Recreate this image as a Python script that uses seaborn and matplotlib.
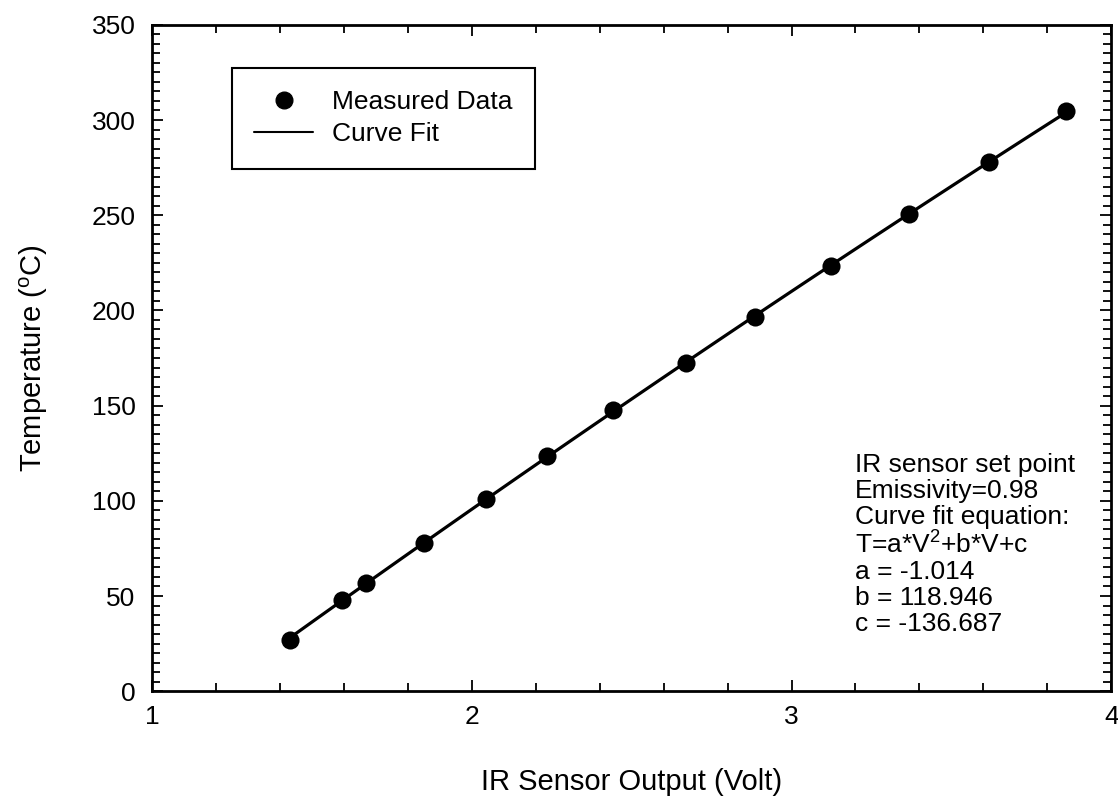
import numpy as np
import pandas as pd
import matplotlib
matplotlib.use("Agg")
import matplotlib.pyplot as plt
import seaborn as sns
from matplotlib.lines import Line2D
from matplotlib.ticker import MultipleLocator

voltage = [1.43, 1.595, 1.67, 1.852, 2.043, 2.236, 2.442, 2.67, 2.886, 3.124, 3.368, 3.618, 3.859]
temperature = [27, 48, 57, 78, 101, 123.5, 147.5, 172.5, 196.5, 223.5, 250.5, 278, 304.5]

x_ticks = [1, 2, 3, 4]
y_ticks = [0, 50, 100, 150, 200, 250, 300, 350]

note_lines = [
    "IR sensor set point",
    "Emissivity=0.98",
    "Curve fit equation:",
    "T=a*V$^2$+b*V+c",
    "a = -1.014",
    "b = 118.946",
    "c = -136.687",
]

df = pd.DataFrame({"voltage": voltage, "temperature": temperature})

sns.set_style("ticks")
plt.rcParams["font.family"] = ["Liberation Sans", "DejaVu Sans"]
plt.rcParams["mathtext.fontset"] = "custom"
plt.rcParams["mathtext.rm"] = "Liberation Sans"
plt.rcParams["mathtext.it"] = "Liberation Sans"
for key in ["text.color", "axes.labelcolor", "xtick.color", "ytick.color"]:
    plt.rcParams[key] = "black"

fig = plt.figure(figsize=(11.18, 8), dpi=100)
ax = fig.add_axes([0.136, 0.136, 0.858, 0.833])

# Curve fit (2nd order polynomial) and measured points
sns.regplot(data=df, x="voltage", y="temperature", order=2, ci=None,
            scatter=False, truncate=True, color="black",
            line_kws={"linewidth": 2.3}, ax=ax)
sns.scatterplot(data=df, x="voltage", y="temperature", color="black",
                s=170, edgecolor="black", linewidth=0, zorder=3, ax=ax)

ax.set_xlim(1, 4)
ax.set_ylim(0, 350)
ax.set_xticks(x_ticks)
ax.set_yticks(y_ticks)
ax.xaxis.set_minor_locator(MultipleLocator(0.2))
ax.yaxis.set_minor_locator(MultipleLocator(5))
ax.tick_params(which="both", direction="in", top=True, right=True,
               colors="black", width=1.3)
ax.tick_params(which="major", length=8, labelsize=19)
ax.tick_params(axis="x", which="major", pad=10)
ax.tick_params(axis="y", which="major", pad=12)
ax.tick_params(which="minor", length=6)
for sp in ax.spines.values():
    sp.set_linewidth(2)
    sp.set_color("black")

ax.set_xlabel("IR Sensor Output (Volt)", fontsize=21, labelpad=28)
ax.set_ylabel("Temperature ($^{\\rm o}$C)", fontsize=21, labelpad=30)

handles = [
    Line2D([], [], marker="o", color="black", linestyle="none", markersize=12),
    Line2D([], [], color="black", linewidth=1.5),
]
leg = ax.legend(handles, ["Measured Data", "Curve Fit"], loc="upper left",
                bbox_to_anchor=(0.0834, 0.9354), fontsize=19, frameon=True,
                fancybox=False, handlelength=2.2, handletextpad=0.75,
                borderpad=0.85, labelspacing=0.3, borderaxespad=0)
leg.get_frame().set_edgecolor("black")
leg.get_frame().set_linewidth(1.5)
leg.get_frame().set_alpha(1)

ax.text(0.733, 0.357, "\n".join(note_lines), transform=ax.transAxes,
        ha="left", va="top", fontsize=19, linespacing=1.1)

fig.savefig("out.png", dpi=100, facecolor="white")
